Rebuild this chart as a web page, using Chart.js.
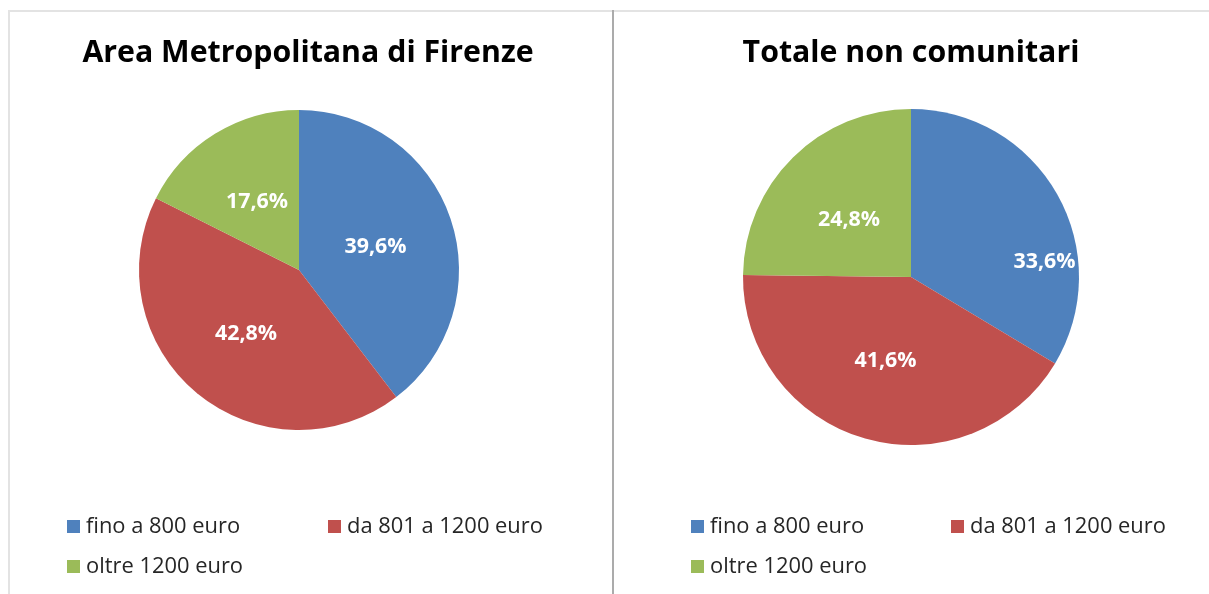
<!DOCTYPE html>
<html>
<head>
<meta charset="utf-8">
<script src="https://cdn.jsdelivr.net/npm/chart.js@4"></script>
<style>
  html, body { margin: 0; padding: 0; background: #fff; }
  #wrap { position: relative; width: 1209px; height: 594px; overflow: hidden; }
  #wrap canvas { position: absolute; top: 0; }
  .edge { position: absolute; background: #e3e3e3; }
</style>
</head>
<body>
<div id="wrap">
  <div class="edge" style="left:8px; top:10px; width:1201px; height:2px;"></div>
  <div class="edge" style="left:8px; top:10px; width:2px; height:584px;"></div>
  <div class="edge" style="left:612px; top:10px; width:2px; height:584px; background:#ababab;"></div>
  <canvas id="left" width="612" height="594" style="left:0"></canvas>
  <canvas id="right" width="595" height="594" style="left:614px"></canvas>
</div>
<script>
// fasce di reddito
var categories = ["fino a 800 euro", "da 801 a 1200 euro", "oltre 1200 euro"];
var colors = ["#4F81BD", "#C0504D", "#9BBB59"];

var firenze = [39.6, 42.8, 17.6];
var nonComunitari = [33.6, 41.6, 24.8];

var fontFam = "'Open Sans', Lato, sans-serif";

// pick a font size so that a sample string has the width seen in the picture
function fitFont(ctx, weight, sample, width) {
  ctx.font = weight + " 20px " + fontFam;
  var size = 20 * width / ctx.measureText(sample).width;
  return weight + " " + size.toFixed(1) + "px " + fontFam;
}

// title, legend and slice labels drawn on the canvas
var decor = {
  id: "decor",
  afterDatasetsDraw: function (chart, args, opts) {
    var ctx = chart.ctx;
    ctx.save();

    // slice labels
    var meta = chart.getDatasetMeta(0);
    ctx.font = fitFont(ctx, "bold", "39,6%", 62);
    ctx.fillStyle = "#fff";
    ctx.textAlign = "center";
    ctx.textBaseline = "middle";
    meta.data.forEach(function (arc, i) {
      var p = arc.getProps(["x", "y", "startAngle", "endAngle", "outerRadius"], true);
      var mid = (p.startAngle + p.endAngle) / 2 + (opts.angleShift[i] || 0);
      var r = p.outerRadius * opts.labelRadius[i];
      var v = chart.data.datasets[0].data[i];
      ctx.fillText(v.toFixed(1).replace(".", ",") + "%", p.x + Math.cos(mid) * r, p.y + Math.sin(mid) * r);
    });

    // title
    ctx.font = fitFont(ctx, "bold", "Area Metropolitana di Firenze", 452);
    ctx.fillStyle = "#000";
    ctx.textBaseline = "alphabetic";
    ctx.fillText(opts.title, opts.titleX, 62);

    // legend
    ctx.font = fitFont(ctx, "normal", "fino a 800 euro", 154);
    ctx.textAlign = "left";
    ctx.textBaseline = "middle";
    var cells = [[opts.legendX, 527], [opts.legendX + opts.colGap, 527], [opts.legendX, 567]];
    chart.data.labels.forEach(function (lab, i) {
      var c = cells[i];
      ctx.fillStyle = chart.data.datasets[0].backgroundColor[i];
      ctx.fillRect(c[0], c[1] - 7, 13, 13);
      ctx.fillStyle = "#262626";
      ctx.fillText(lab, c[0] + 19, c[1]);
    });
    ctx.restore();
  }
};

function makePie(id, values, pad, decorOpts) {
  return new Chart(id, {
    type: "pie",
    data: {
      labels: categories,
      datasets: [{
        data: values,
        backgroundColor: colors,
        borderWidth: 0,
        hoverOffset: 0
      }]
    },
    options: {
      responsive: false,
      animation: false,
      events: [],
      layout: { padding: pad },
      plugins: {
        legend: { display: false },
        tooltip: { enabled: false },
        decor: decorOpts
      }
    },
    plugins: [decor]
  });
}

makePie("left", firenze,
  { left: 139, right: 153, top: 110, bottom: 164 },
  { title: "Area Metropolitana di Firenze", titleX: 308, legendX: 67, colGap: 261,
    labelRadius: [0.5, 0.52, 0.5], angleShift: [0.03, 0, 0] });

makePie("right", nonComunitari,
  { left: 129, right: 130, top: 109, bottom: 149 },
  { title: "Totale non comunitari", titleX: 297, legendX: 77, colGap: 260,
    labelRadius: [0.8, 0.52, 0.5], angleShift: [0.4, 0.02, -0.05] });
</script>
</body>
</html>
